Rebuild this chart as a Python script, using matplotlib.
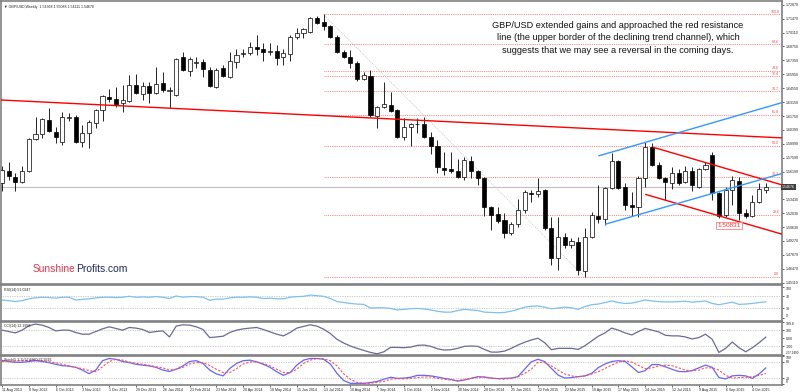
import matplotlib
matplotlib.use("Agg")
import matplotlib.pyplot as plt
import numpy as np

# GBP/USD weekly candles, 11 Aug 2013 .. 18 Oct 2015
opens = [1.5507, 1.5627, 1.5567, 1.5517, 1.5627, 1.5947, 1.5997, 1.6137, 1.6017, 1.5917,
         1.6157, 1.6167, 1.5917, 1.6007, 1.6107, 1.6237, 1.6367, 1.6347, 1.6307, 1.6327,
         1.6487, 1.6397, 1.6477, 1.6407, 1.6507, 1.6427, 1.6387, 1.6767, 1.6627, 1.6707,
         1.6717, 1.6637, 1.6467, 1.6657, 1.6567, 1.6717, 1.6797, 1.6807, 1.6867, 1.6847,
         1.6817, 1.6827, 1.6767, 1.6797, 1.6967, 1.7007, 1.7017, 1.7157, 1.7117, 1.7077,
         1.6967, 1.6817, 1.6767, 1.6707, 1.6547, 1.6577, 1.6177, 1.6267, 1.6287, 1.6237,
         1.5967, 1.6067, 1.6097, 1.6097, 1.5967, 1.5877, 1.5657, 1.5647, 1.5627, 1.5567,
         1.5727, 1.5627, 1.5557, 1.5267, 1.5197, 1.5137, 1.5007, 1.5097, 1.5237, 1.5407,
         1.5397, 1.5437, 1.5057, 1.4757, 1.4967, 1.4887, 1.4917, 1.4627, 1.4967, 1.5177,
         1.5147, 1.5457, 1.5727, 1.5467, 1.5287, 1.5267, 1.5557, 1.5867, 1.5687, 1.5557,
         1.5507, 1.5607, 1.5517, 1.5627, 1.5467, 1.5647, 1.5787, 1.5407, 1.5187, 1.5437,
         1.5527, 1.5207, 1.5177, 1.5317, 1.5437]
highs = [1.5677, 1.5717, 1.5607, 1.5677, 1.5957, 1.6167, 1.6157, 1.6257, 1.6067, 1.6217,
         1.6207, 1.6187, 1.6087, 1.6137, 1.6247, 1.6387, 1.6447, 1.6467, 1.6487, 1.6587,
         1.6597, 1.6517, 1.6517, 1.6667, 1.6617, 1.6467, 1.6757, 1.6817, 1.6767, 1.6767,
         1.6747, 1.6667, 1.6657, 1.6687, 1.6817, 1.6847, 1.6847, 1.6917, 1.6987, 1.6907,
         1.6907, 1.6887, 1.6847, 1.6987, 1.7057, 1.7057, 1.7167, 1.7177, 1.7192, 1.7087,
         1.6987, 1.6837, 1.6837, 1.6727, 1.6617, 1.6637, 1.6277, 1.6517, 1.6417, 1.6247,
         1.6157, 1.6107, 1.6157, 1.6167, 1.6017, 1.5937, 1.5817, 1.5817, 1.5747, 1.5767,
         1.5777, 1.5637, 1.5567, 1.5277, 1.5267, 1.5207, 1.5117, 1.5347, 1.5437, 1.5437,
         1.5557, 1.5447, 1.5167, 1.5167, 1.5007, 1.4957, 1.4967, 1.5057, 1.5217, 1.5487,
         1.5467, 1.5807, 1.5737, 1.5507, 1.5417, 1.5577, 1.5917, 1.5907, 1.5717, 1.5567,
         1.5667, 1.5647, 1.5677, 1.5667, 1.5657, 1.5717, 1.5817, 1.5417, 1.5467, 1.5577,
         1.5567, 1.5247, 1.5387, 1.5507, 1.5509]
lows = [1.5427, 1.5537, 1.5427, 1.5507, 1.5617, 1.5937, 1.5957, 1.6017, 1.5907, 1.5887,
        1.6127, 1.5907, 1.5867, 1.5857, 1.6057, 1.6127, 1.6317, 1.6267, 1.6217, 1.6317,
        1.6397, 1.6337, 1.6307, 1.6397, 1.6417, 1.6257, 1.6377, 1.6627, 1.6577, 1.6657,
        1.6567, 1.6467, 1.6457, 1.6567, 1.6557, 1.6657, 1.6767, 1.6787, 1.6787, 1.6727,
        1.6787, 1.6687, 1.6687, 1.6727, 1.6947, 1.6957, 1.7007, 1.7097, 1.7037, 1.6957,
        1.6807, 1.6757, 1.6657, 1.6527, 1.6537, 1.6167, 1.6057, 1.6257, 1.6217, 1.5957,
        1.5937, 1.5877, 1.6007, 1.5957, 1.5797, 1.5607, 1.5587, 1.5607, 1.5557, 1.5537,
        1.5557, 1.5487, 1.5177, 1.5037, 1.5107, 1.4957, 1.4987, 1.5067, 1.5207, 1.5317,
        1.5367, 1.5037, 1.4687, 1.4637, 1.4857, 1.4857, 1.4587, 1.4565, 1.4957, 1.5107,
        1.5087, 1.5447, 1.5447, 1.5237, 1.5177, 1.5167, 1.5467, 1.5677, 1.5547, 1.5337,
        1.5447, 1.5487, 1.5507, 1.5427, 1.5457, 1.5637, 1.5337, 1.5157, 1.5167, 1.5287,
        1.5137, 1.5157, 1.5167, 1.5307, 1.5411]
closes = [1.5637, 1.5577, 1.5517, 1.5627, 1.5947, 1.5997, 1.6147, 1.6027, 1.5967, 1.6167,
          1.6167, 1.5917, 1.6007, 1.6117, 1.6237, 1.6377, 1.6347, 1.6297, 1.6337, 1.6487,
          1.6407, 1.6477, 1.6407, 1.6497, 1.6437, 1.6437, 1.6747, 1.6637, 1.6747, 1.6717,
          1.6647, 1.6477, 1.6637, 1.6577, 1.6727, 1.6787, 1.6807, 1.6867, 1.6847, 1.6817,
          1.6827, 1.6757, 1.6807, 1.6967, 1.7007, 1.7047, 1.7157, 1.7107, 1.7077, 1.6967,
          1.6817, 1.6767, 1.6707, 1.6547, 1.6587, 1.6187, 1.6267, 1.6297, 1.6227, 1.5967,
          1.6067, 1.6097, 1.6097, 1.5967, 1.5877, 1.5667, 1.5637, 1.5627, 1.5567, 1.5737,
          1.5627, 1.5557, 1.5267, 1.5187, 1.5127, 1.5007, 1.5097, 1.5237, 1.5417, 1.5397,
          1.5427, 1.5057, 1.4757, 1.4967, 1.4887, 1.4927, 1.4637, 1.4967, 1.5187, 1.5147,
          1.5457, 1.5727, 1.5457, 1.5287, 1.5267, 1.5557, 1.5867, 1.5687, 1.5557, 1.5517,
          1.5607, 1.5507, 1.5627, 1.5487, 1.5647, 1.5687, 1.5407, 1.5177, 1.5437, 1.5537,
          1.5207, 1.5177, 1.5317, 1.5447, 1.54676]

rsi_vals = [57, 55, 52, 55, 61, 64, 66, 65, 63, 66, 66, 57, 59, 61, 64, 66, 66, 65, 66, 69,
            66, 67, 66, 68, 66, 62, 70, 66, 68, 68, 66, 56, 60, 60, 64, 66, 66, 67, 66, 62,
            63, 61, 61, 66, 68, 69, 73, 71, 69, 62, 52, 49, 46, 44, 43, 31, 32, 32, 30, 25,
            27, 29, 30, 28, 25, 21, 18, 18, 23, 27, 25, 23, 18, 17, 16, 17, 21, 27, 34, 37,
            38, 34, 29, 31, 34, 32, 27, 36, 42, 44, 49, 54, 49, 46, 47, 52, 57, 54, 52, 51,
            51, 52, 53, 50, 52, 54, 46, 42, 46, 50, 43, 44, 46, 49, 51.02]
cci_vals = [99, 82, 65, 99, 153, 174, 161, 132, 90, 99, 99, 70, 49, 49, 82, 115, 140, 120, 99, 132,
            124, 107, 70, 82, 90, 15, 149, 165, 161, 140, 107, 7, 15, 24, 70, 99, 115, 124, 132, 107,
            78, 49, 28, 70, 124, 145, 165, 149, 111, 57, -14, -60, -97, -126, -151, -176, -193, -168, -114, -114,
            -118, -110, -89, -85, -101, -131, -147, -143, -126, -101, -97, -101, -139, -172, -172, -160, -126, -85, -51, -22,
            -1, -56, -143, -126, -126, -126, -139, -93, -35, 24, 65, 124, 99, 65, 40, 82, 120, 99, 78, 36,
            28, 28, 15, -10, 7, 49, -14, -176, -126, -47, -118, -168, -118, -56, 12.2]
stoch_main = [85, 81, 78, 78, 81, 84, 81, 77, 71, 66, 64, 60, 50, 37, 50, 84, 92, 89, 81, 77,
              71, 68, 65, 60, 50, 45, 53, 65, 81, 84, 74, 50, 36, 29, 56, 74, 84, 86, 80, 71,
              60, 44, 31, 41, 68, 86, 92, 92, 89, 72, 38, 12, 2, 2, 2, 5, 9, 17, 24, 20,
              21, 24, 31, 31, 29, 25, 20, 16, 10, 14, 20, 26, 25, 21, 19, 20, 21, 26, 53, 80,
              89, 81, 56, 32, 21, 23, 26, 29, 38, 59, 72, 81, 84, 81, 62, 41, 48, 70, 70, 62,
              53, 45, 44, 48, 58, 68, 60, 23, 18, 29, 31, 29, 20, 36, 57.69]
stoch_signal = [81, 81, 83, 84, 85, 86, 84, 80, 77, 71, 65, 60, 55, 48, 44, 62, 81, 89, 86, 79,
                74, 71, 67, 62, 58, 50, 53, 60, 72, 77, 77, 67, 53, 41, 41, 55, 72, 79, 80, 74,
                65, 53, 41, 41, 53, 74, 86, 92, 91, 84, 65, 36, 17, 5, 2, 2, 6, 9, 17, 19,
                18, 20, 23, 25, 25, 20, 17, 14, 12, 16, 20, 23, 24, 21, 19, 17, 20, 26, 38, 53,
                79, 77, 65, 50, 36, 29, 26, 29, 36, 44, 56, 68, 79, 84, 79, 67, 55, 58, 65, 68,
                66, 58, 50, 48, 50, 58, 58, 50, 31, 21, 23, 24, 26, 31, 37.93]

date_labels = ["11 Aug 2013", "8 Sep 2013", "6 Oct 2013", "3 Nov 2013", "1 Dec 2013",
               "29 Dec 2013", "26 Jan 2014", "23 Feb 2014", "23 Mar 2014", "20 Apr 2014",
               "18 May 2014", "15 Jun 2014", "13 Jul 2014", "10 Aug 2014", "7 Sep 2014",
               "5 Oct 2014", "2 Nov 2014", "30 Nov 2014", "28 Dec 2014", "25 Jan 2015",
               "22 Feb 2015", "22 Mar 2015", "19 Apr 2015", "17 May 2015", "14 Jun 2015",
               "12 Jul 2015", "9 Aug 2015", "6 Sep 2015", "4 Oct 2015"]

price_ticks = [1.72870, 1.71470, 1.70110, 1.68750, 1.67350, 1.65950, 1.64550, 1.63150,
               1.61750, 1.60390, 1.58990, 1.57590, 1.56190, 1.53430, 1.52030, 1.50630,
               1.49270, 1.47870, 1.46470, 1.45110]
last_price = 1.54676

fib_low, fib_high = 1.4565, 1.7192
fib_levels = [0.0, 23.6, 38.2, 50.0, 61.8, 70.7, 76.4, 78.6, 88.6, 100.0]
fib_start = 48          # week of the July 2014 top
fib_end = 87            # week of the April 2015 bottom

# hand drawn lines: (week index, price) pairs
resistance = [(-0.15, 1.6337), (116.42, 1.5958)]
blue_upper = [(89.0, 1.5777), (116.42, 1.6311)]
blue_lower = [(90.0, 1.5094), (116.42, 1.5602)]
red_upper = [(97.2, 1.5864), (116.42, 1.5488)]
red_lower = [(96.0, 1.5394), (116.42, 1.4995)]
low_label = (108.5, 1.50831)

note = ("GBP/USD extended gains and approached the red resistance\n"
        "line (the upper border of the declining trend channel), which\n"
        "suggests that we may see a reversal in the coming days.")

W, H = 800, 392
TINY = 2.6
GRID = "#808080"


def px_box(x0, y0, x1, y1):
    return [x0 / W, 1 - y1 / H, (x1 - x0) / W, (y1 - y0) / H]


def style_axes(ax, xlim):
    ax.set_xlim(*xlim)
    for s in ax.spines.values():
        s.set_color(GRID)
        s.set_linewidth(1.2)
    ax.yaxis.tick_right()
    ax.tick_params(axis="y", labelsize=TINY, length=1.5, width=0.5, pad=1,
                   colors="#222222")
    ax.tick_params(axis="x", length=0, labelbottom=False)


def side_labels(ax, ticks, labels):
    # outer labels are pulled inside the window like the terminal does
    ax.set_yticks(ticks)
    ax.set_yticklabels(labels)
    tl = ax.get_yticklabels()
    tl[0].set_va("top")
    tl[-1].set_va("bottom")


plt.rcParams["font.family"] = ["Liberation Sans", "DejaVu Sans"]
fig = plt.figure(figsize=(8, 3.92), dpi=100)
fig.patch.set_facecolor("white")

xlim = (-0.15, 116.42)
idx = np.arange(len(opens))
o = np.array(opens)
c = np.array(closes)

# ---- main price window
ax = fig.add_axes(px_box(1, 1, 782, 284))
style_axes(ax, xlim)
ax.set_ylim(1.4497, 1.7327)
ax.set_yticks(price_ticks)
ax.set_yticklabels(["%.5f" % t for t in price_ticks])

ax.axhline(last_price, color="#c0c0c0", lw=0.8, zorder=1)

# fibonacci retracement
fib_x1 = xlim[1]
for lv in fib_levels:
    p = fib_low + lv / 100 * (fib_high - fib_low)
    ax.plot([fib_start, fib_x1], [p, p], color="#ff6060", lw=0.6,
            ls=(0, (1, 1.2)), zorder=1)
    ax.text(fib_x1 - 0.4, p + 0.0008, "%.1f" % lv, fontsize=TINY, color="#ff4040",
            ha="right", va="bottom")
ax.plot([fib_start, fib_end], [fib_high, fib_low], color="#bbbbbb", lw=0.6,
        ls=(0, (1, 1.5)), zorder=1)

# candles
ax.vlines(idx, lows, highs, color="black", lw=0.6, zorder=2)
heights = np.maximum(np.abs(c - o), 0.0004)
ax.bar(idx, heights, bottom=np.minimum(o, c), width=0.62,
       color=np.where(c >= o, "white", "black"), edgecolor="black", lw=0.5, zorder=3)

# trend lines
for line, col in [(resistance, "#ff0000"), (red_upper, "#ff0000"), (red_lower, "#ff0000"),
                  (blue_upper, "#3399ff"), (blue_lower, "#3399ff")]:
    xs, ys = zip(*line)
    ax.plot(xs, ys, color=col, lw=1.0, zorder=4, solid_capstyle="butt")

ax.text(low_label[0], low_label[1], "%.5f" % low_label[1], fontsize=4.6, color="#ff3030",
        ha="center", va="center", zorder=5,
        bbox=dict(boxstyle="square,pad=0.15", fc="white", ec="#ff8080", lw=0.6))

# current price tag on the axis
ax.text(1.0, last_price, "%.5f" % last_price, transform=ax.get_yaxis_transform(),
        fontsize=TINY, color="white", ha="left", va="center",
        bbox=dict(boxstyle="square,pad=0.2", fc="#404040", ec="none"))

ax.text(0.004, 0.985, "\u25bc GBP/USD,Weekly  1.54368 1.55088 1.54111 1.54676",
        transform=ax.transAxes, fontsize=TINY, color="#222222", ha="left", va="top")

fig.text(618 / W, 1 - 38 / H, note, fontsize=6.6, ha="center", va="center",
         linespacing=1.45, color="#111111")

fig.text(33 / W, 1 - 269 / H, "Sunshine", fontsize=7.4, color="#e8364a",
         ha="left", va="center")
fig.text(76 / W, 1 - 269 / H, "Profits.com", fontsize=7.4, color="#1c2a5c",
         ha="left", va="center")

# ---- RSI
ax_rsi = fig.add_axes(px_box(1, 285, 782, 321))
style_axes(ax_rsi, xlim)
ax_rsi.set_ylim(-10.6, 105.5)
side_labels(ax_rsi, [100, 70, 30, 0], ["100", "70", "30", "0"])
for lv in (70, 30):
    ax_rsi.axhline(lv, color="#a0a0a0", lw=0.5, ls=(0, (1, 1.5)))
ax_rsi.plot(idx, rsi_vals, color="#7ec0ee", lw=0.9)
ax_rsi.text(0.004, 0.93, "RSI(14) 51.0247", transform=ax_rsi.transAxes,
            fontsize=TINY, color="#222222", ha="left", va="top")

# ---- CCI
ax_cci = fig.add_axes(px_box(1, 322, 782, 355))
style_axes(ax_cci, xlim)
ax_cci.set_ylim(-207.94, 199.6)
side_labels(ax_cci, [199.6, 100, 0, -100, -207.94],
            ["199.6", "100", "0.00", "-100", "-207.9400"])
ax_cci.get_yticklabels()[-1].set_fontsize(2.2)
for lv in (100, -100):
    ax_cci.axhline(lv, color="#a0a0a0", lw=0.5, ls=(0, (1, 1.5)))
ax_cci.plot(idx, cci_vals, color="#6a6a9a", lw=0.9)
ax_cci.text(0.004, 0.93, "CCI(14) 12.1958", transform=ax_cci.transAxes,
            fontsize=TINY, color="#222222", ha="left", va="top")

# ---- Stochastic
ax_st = fig.add_axes(px_box(1, 356, 782, 385))
style_axes(ax_st, xlim)
ax_st.set_ylim(-4, 101)
side_labels(ax_st, [100, 80, 20, 0], ["100", "80", "20", "0"])
for lv in (80, 20):
    ax_st.axhline(lv, color="#a0a0a0", lw=0.5, ls=(0, (1, 1.5)))
ax_st.plot(idx, stoch_main, color="#6666ff", lw=0.9)
ax_st.plot(idx, stoch_signal, color="#ff5050", lw=0.8, ls=(0, (2, 1.5)))
ax_st.text(0.004, 0.93, "Stoch(5,3,3) 57.6860 37.9316", transform=ax_st.transAxes,
           fontsize=TINY, color="#222222", ha="left", va="top")

ax_st.set_xticks(idx[::4][:len(date_labels)])
ax_st.set_xticklabels(date_labels)
ax_st.tick_params(axis="x", labelbottom=True, labelsize=TINY, length=1.5, width=0.5,
                  pad=1, colors="#222222")
for lab in ax_st.get_xticklabels():
    lab.set_ha("left")

fig.savefig("out.png", dpi=100, facecolor="white")
